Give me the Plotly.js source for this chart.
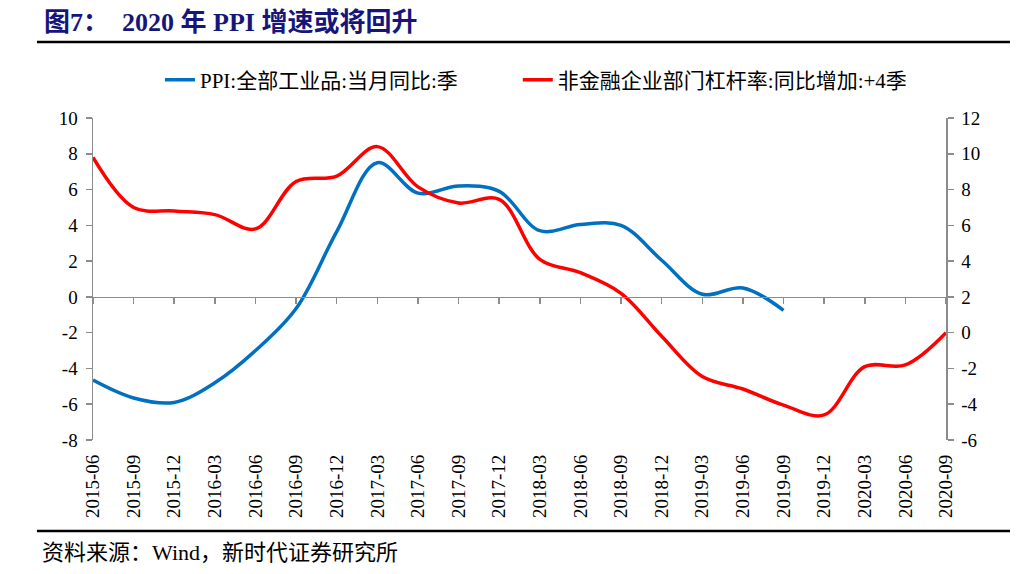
<!DOCTYPE html>
<html><head><meta charset="utf-8">
<script src="https://cdn.plot.ly/plotly-3.0.1.min.js"></script>
<style>body{margin:0;background:#fff}#chart{width:1021px;height:574px}</style>
</head><body><div id="chart"></div>
<script>
const categories = ['2015-06','2015-09','2015-12','2016-03','2016-06','2016-09','2016-12','2017-03','2017-06','2017-09','2017-12','2018-03','2018-06','2018-09','2018-12','2019-03','2019-06','2019-09','2019-12','2020-03','2020-06','2020-09'];
const ppiName = 'PPI:全部工业品:当月同比:季';
const ppiCategories = categories.slice(0, 18);
const ppiValues = [-4.65,-5.65,-5.9,-4.8,-3.0,-0.65,3.65,7.5,5.8,6.2,5.9,3.7,4.05,4.0,2.05,0.15,0.5,-0.75];
const leverageName = '非金融企业部门杠杆率:同比增加:+4季';
const leverageValues = [9.8,7.0,6.8,6.6,5.8,8.45,8.75,10.4,8.15,7.25,7.45,4.1,3.35,2.2,-0.2,-2.45,-3.15,-4.05,-4.6,-1.9,-1.8,0];
const leftTicks = [-8,-6,-4,-2,0,2,4,6,8,10];
const rightTicks = [-6,-4,-2,0,2,4,6,8,10,12];
const titleText = '图7：\u00a0\u00a02020 年 PPI 增速或将回升';
const sourceText = '资料来源：Wind，新时代证券研究所';

const serif = 'Liberation Serif, Times New Roman, Noto Sans CJK SC, serif';
const axisGray = '#8c8c8c';

const traces = [
  {x: ppiCategories, y: ppiValues, name: ppiName, type: 'scatter', mode: 'lines', legend: 'legend',
   line: {color: '#0070C0', width: 3.5, shape: 'spline', smoothing: 1}, xaxis: 'x', yaxis: 'y', hoverinfo: 'x+y'},
  {x: categories, y: leverageValues, name: leverageName, type: 'scatter', mode: 'lines', legend: 'legend2',
   line: {color: '#FF0000', width: 3.5, shape: 'spline', smoothing: 1}, xaxis: 'x', yaxis: 'y2', hoverinfo: 'x+y'},
  {x: categories, y: leverageValues, type: 'scatter', mode: 'lines', opacity: 0, showlegend: false,
   hoverinfo: 'skip', line: {width: 0}, xaxis: 'x2', yaxis: 'y2'}
];

const legendBase = {orientation: 'h', yanchor: 'middle', y: 1.118, xanchor: 'left',
  font: {family: serif, size: 21, color: '#000'}, bgcolor: 'rgba(0,0,0,0)'};

const layout = {
  width: 1021, height: 574,
  margin: {l: 93, r: 75, t: 118, b: 134},
  paper_bgcolor: '#fff', plot_bgcolor: '#fff',
  font: {family: serif, color: '#000', size: 19},
  showlegend: true,
  legend: Object.assign({}, legendBase, {x: 0.0785}),
  legend2: Object.assign({}, legendBase, {x: 0.498}),
  xaxis: {type: 'category', categoryorder: 'array', categoryarray: categories, range: [0, 21],
    showline: false, ticks: '', tickangle: -90, showgrid: false, zeroline: false,
    tickfont: {family: serif, size: 19, color: '#000'}, ticklabelstandoff: 10},
  xaxis2: {type: 'category', categoryorder: 'array', categoryarray: categories, range: [0, 21],
    overlaying: 'x', anchor: 'free', position: 8/18, showline: true, linecolor: axisGray, linewidth: 1.5,
    ticks: 'outside', ticklen: 6, tickwidth: 1.5, tickcolor: axisGray, showticklabels: false, showgrid: false, zeroline: false},
  yaxis: {range: [-8, 10], tickvals: leftTicks, ticktext: leftTicks.map(String), showline: true,
    linecolor: axisGray, linewidth: 1.5, ticks: 'outside', ticklen: 6, tickwidth: 1.5, tickcolor: axisGray,
    showgrid: false, zeroline: false, tickfont: {family: serif, size: 19, color: '#000'}, ticklabelstandoff: 4},
  yaxis2: {range: [-6, 12], overlaying: 'y', side: 'right', tickvals: rightTicks, ticktext: rightTicks.map(String),
    showline: true, linecolor: axisGray, linewidth: 1.5, ticks: 'outside', ticklen: 6, tickwidth: 1.5, tickcolor: axisGray,
    showgrid: false, zeroline: false, tickfont: {family: serif, size: 19, color: '#000'}, ticklabelstandoff: 4},
  shapes: [
    {type: 'line', xref: 'paper', yref: 'paper', x0: -0.0657, x1: 1.075, y0: 1.236, y1: 1.236, line: {color: '#000', width: 2.5}},
    {type: 'line', xref: 'paper', yref: 'paper', x0: -0.0657, x1: 1.075, y0: -0.2826, y1: -0.2826, line: {color: '#000', width: 2.5}}
  ],
  annotations: [
    {text: '<b>' + titleText + '</b>', xref: 'paper', yref: 'paper', x: -0.0598, y: 1.298, xanchor: 'left', yanchor: 'middle',
     showarrow: false, font: {family: serif, size: 26, color: '#16167a'}},
    {text: sourceText, xref: 'paper', yref: 'paper', x: -0.0621, y: -0.348, xanchor: 'left', yanchor: 'middle',
     showarrow: false, font: {family: serif, size: 22, color: '#000'}}
  ]
};

Plotly.newPlot('chart', traces, layout, {displayModeBar: false, staticPlot: true});
</script>
</body></html>
